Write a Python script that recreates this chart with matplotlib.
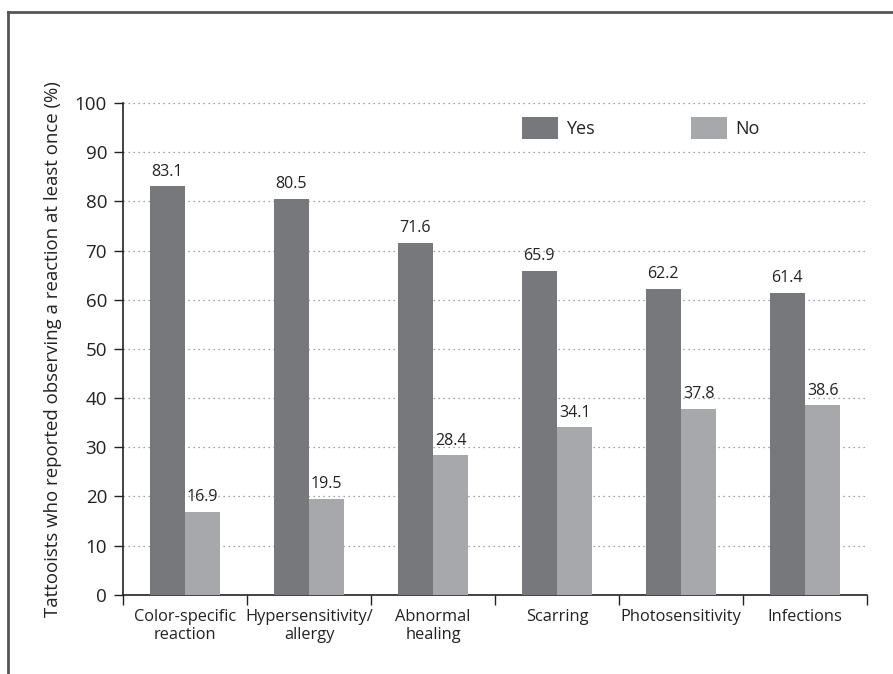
import matplotlib
matplotlib.use("Agg")
import matplotlib.pyplot as plt
import numpy as np
from matplotlib.lines import Line2D

categories = ["Color-specific\nreaction", "Hypersensitivity/\nallergy", "Abnormal\nhealing",
              "Scarring", "Photosensitivity", "Infections"]
yes_vals = [83.1, 80.5, 71.6, 65.9, 62.2, 61.4]
no_vals = [16.9, 19.5, 28.4, 34.1, 37.8, 38.6]
yticks = [0, 10, 20, 30, 40, 50, 60, 70, 80, 90, 100]
ylabel = "Tattooists who reported observing a reaction at least once (%)"

plt.rcParams['font.family'] = ['Open Sans', 'DejaVu Sans']
yes_color = "#77787b"
no_color = "#a7a8ab"

fig = plt.figure(figsize=(8.93, 6.74), dpi=100)
ax = fig.add_axes([123/893, 1-594.7/674, 744/893, 491.7/674])

x = np.arange(len(categories))
w = 0.286
ax.bar(x - w/2, yes_vals, w, color=yes_color, label="Yes", zorder=3)
ax.bar(x + w/2, no_vals, w, color=no_color, label="No", zorder=3)
for xi, v in zip(x - w/2, yes_vals):
    ax.text(xi, v + 1.3, f"{v:.1f}", ha="center", va="bottom", fontsize=11.5, color="#222222")
for xi, v in zip(x + w/2, no_vals):
    ax.text(xi, v + 1.3, f"{v:.1f}", ha="center", va="bottom", fontsize=11.5, color="#222222")

ax.set_xlim(-0.5, len(categories) - 0.5)
ax.set_ylim(0, 100)
ax.set_yticks(yticks)
ax.tick_params(axis="y", labelsize=13.5, length=6.5, width=1, pad=5, colors="#222222")
for t in yticks[1:]:
    ax.axhline(t, color="#888888", linestyle=(0, (1, 3)), linewidth=0.9, zorder=1, clip_on=False)

ax.set_xticks(np.arange(len(categories) + 1) - 0.5)
ax.set_xticklabels([])
ax.set_xticks(x, minor=True)
ax.set_xticklabels(categories, minor=True, fontsize=11.8, color="#222222", linespacing=1.2)
ax.tick_params(axis="x", which="major", length=7, width=1, colors="#222222")
ax.tick_params(axis="x", which="minor", length=0, pad=10)

for s in ["top", "right"]:
    ax.spines[s].set_visible(False)
for s in ["left", "bottom"]:
    ax.spines[s].set_color("#222222")
    ax.spines[s].set_linewidth(1.2)

ax.set_ylabel(ylabel, fontsize=13.4, color="#222222", labelpad=9)

leg = ax.legend(loc="center", bbox_to_anchor=(0.696, 0.949), ncol=2, frameon=False,
                prop={"family": "Open Sans", "size": 13},
                handlelength=2.0, handleheight=1.45, handletextpad=0.45, columnspacing=5.3)
for t in leg.get_texts():
    t.set_color("#222222")

# partial frame
fig.add_artist(Line2D([8/893, 1.0], [1-12/674, 1-12/674], color="#555555", linewidth=2))
fig.add_artist(Line2D([8/893, 8/893], [0, 1-12/674], color="#555555", linewidth=2))

fig.savefig("out.png", dpi=100)
